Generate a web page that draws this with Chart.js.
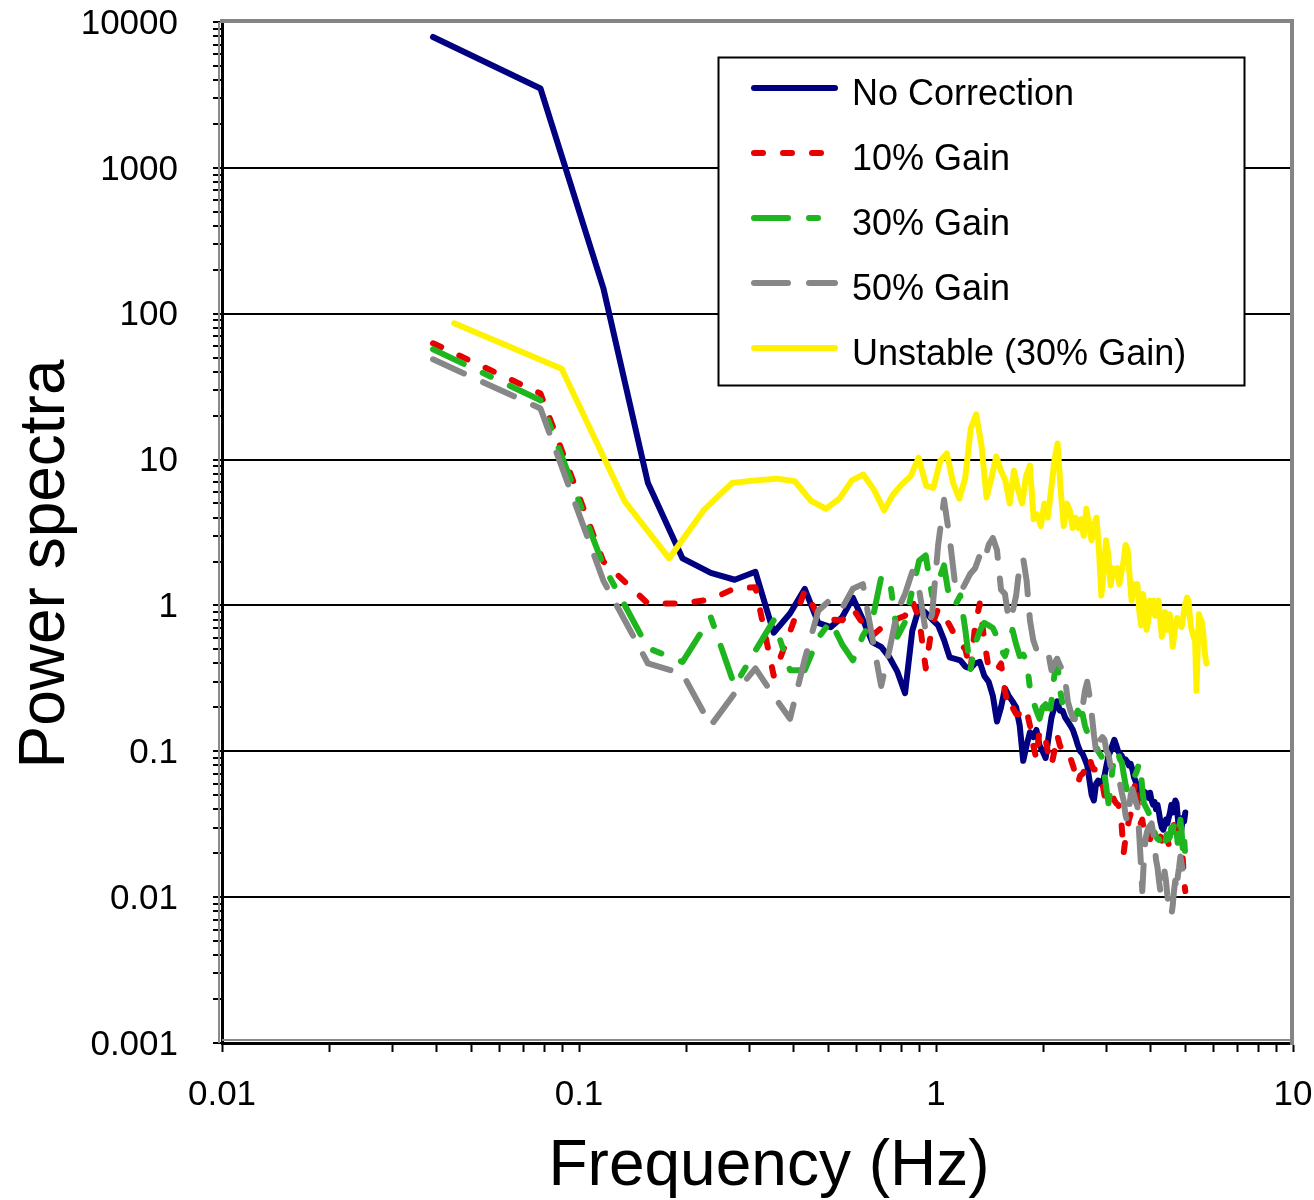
<!DOCTYPE html>
<html>
<head>
<meta charset="utf-8">
<title>Power spectra</title>
<script src="https://cdn.jsdelivr.net/npm/chart.js@4.4.1/dist/chart.umd.min.js"></script>
<style>
  html, body { margin: 0; padding: 0; background: #ffffff; }
  #wrap { width: 1314px; height: 1200px; }
  canvas { display: block; }
</style>
</head>
<body>
<div id="wrap"><canvas id="psd" width="1314" height="1200"></canvas></div>
<script>
// Frequency bins (Hz) of the four corrected/uncorrected runs
const freqHz = [
  0.039, 0.078, 0.117, 0.156, 0.195, 0.234, 0.273, 0.312, 0.351, 0.390,
  0.429, 0.468, 0.507, 0.546, 0.585, 0.624, 0.663, 0.702, 0.741, 0.780,
  0.819, 0.858, 0.897, 0.936, 0.975, 1.014, 1.053, 1.092, 1.131, 1.170,
  1.209, 1.248, 1.287, 1.326, 1.365, 1.404, 1.443, 1.482, 1.521, 1.560,
  1.599, 1.638, 1.677, 1.716, 1.755, 1.794, 1.833, 1.872, 1.911, 1.950,
  1.989, 2.028, 2.067, 2.106, 2.145, 2.184, 2.223, 2.262, 2.301, 2.340,
  2.379, 2.418, 2.457, 2.496, 2.535, 2.574, 2.613, 2.652, 2.691, 2.730,
  2.769, 2.808, 2.847, 2.886, 2.925, 2.964, 3.003, 3.042, 3.081, 3.120,
  3.159, 3.198, 3.237, 3.276, 3.315, 3.354, 3.393, 3.432, 3.471, 3.510,
  3.549, 3.588, 3.627, 3.666, 3.705, 3.744, 3.783, 3.822, 3.861, 3.900,
  3.939, 3.978, 4.017, 4.056, 4.095, 4.134, 4.173, 4.212, 4.251, 4.290,
  4.329, 4.368, 4.407, 4.446, 4.485, 4.524, 4.563, 4.602, 4.641, 4.680,
  4.719, 4.758, 4.797, 4.836, 4.875, 4.914, 4.953, 4.992
];

// Frequency bins (Hz) of the unstable run
const freqUnstableHz = [
  0.0447, 0.0894, 0.1341, 0.1788, 0.2235, 0.2682, 0.3129, 0.3576, 0.4023, 0.4470,
  0.4917, 0.5364, 0.5811, 0.6258, 0.6705, 0.7152, 0.7599, 0.8046, 0.8493, 0.8940,
  0.9387, 0.9834, 1.0281, 1.0728, 1.1175, 1.1622, 1.2069, 1.2516, 1.2963, 1.3410,
  1.3857, 1.4304, 1.4751, 1.5198, 1.5645, 1.6092, 1.6539, 1.6986, 1.7433, 1.7880,
  1.8327, 1.8774, 1.9221, 1.9668, 2.0115, 2.0562, 2.1009, 2.1456, 2.1903, 2.2350,
  2.2797, 2.3244, 2.3691, 2.4138, 2.4585, 2.5032, 2.5479, 2.5926, 2.6373, 2.6820,
  2.7267, 2.7714, 2.8161, 2.8608, 2.9055, 2.9502, 2.9949, 3.0396, 3.0843, 3.1290,
  3.1737, 3.2184, 3.2631, 3.3078, 3.3525, 3.3972, 3.4419, 3.4866, 3.5313, 3.5760,
  3.6207, 3.6654, 3.7101, 3.7548, 3.7995, 3.8442, 3.8889, 3.9336, 3.9783, 4.0230,
  4.0677, 4.1124, 4.1571, 4.2018, 4.2465, 4.2912, 4.3359, 4.3806, 4.4253, 4.4700,
  4.5147, 4.5594, 4.6041, 4.6488, 4.6935, 4.7382, 4.7829, 4.8276, 4.8723, 4.9170,
  4.9617, 5.0064, 5.0511, 5.0958, 5.1405, 5.1852, 5.2299, 5.2746, 5.3193, 5.3640,
  5.4087, 5.4534, 5.4981, 5.5428, 5.5875, 5.6322, 5.6769, 5.7216
];

const psdNoCorrection = [
  7900, 3500, 150, 6.9, 2.1, 1.67, 1.5, 1.7, 0.65, 0.88,
  1.3, 0.76, 0.71, 0.83, 1.13, 0.8, 0.56, 0.52, 0.44, 0.35,
  0.25, 0.67, 0.97, 0.89, 0.8, 0.73, 0.58, 0.44, 0.43, 0.42,
  0.38, 0.37, 0.4, 0.41, 0.33, 0.3, 0.24, 0.16, 0.2, 0.27,
  0.24, 0.22, 0.2, 0.15, 0.086, 0.11, 0.135, 0.125, 0.14, 0.11,
  0.1, 0.09, 0.125, 0.17, 0.2, 0.22, 0.19, 0.19, 0.17, 0.16,
  0.15, 0.14, 0.125, 0.11, 0.1, 0.096, 0.088, 0.08, 0.063, 0.05,
  0.046, 0.06, 0.063, 0.06, 0.06, 0.068, 0.08, 0.093, 0.1, 0.11,
  0.12, 0.11, 0.1, 0.096, 0.093, 0.085, 0.088, 0.085, 0.08, 0.082,
  0.075, 0.066, 0.062, 0.057, 0.05, 0.048, 0.05, 0.053, 0.052, 0.05,
  0.048, 0.052, 0.046, 0.043, 0.045, 0.04, 0.043, 0.038, 0.033, 0.03,
  0.029, 0.031, 0.034, 0.032, 0.035, 0.038, 0.043, 0.038, 0.04, 0.046,
  0.044, 0.035, 0.028, 0.025, 0.03, 0.035, 0.033, 0.038
];

const psdGain10 = [
  62.7, 28.4, 2.0, 1.03, 1.03, 1.1, 1.31, 1.33, 0.33, 0.66,
  1.27, 0.85, 0.8, 0.79, 0.95, 0.75, 0.62, 0.7, 0.76, 0.81,
  0.85, 1.08, 0.81, 0.37, 0.73, 0.95, 0.85, 0.73, 0.62, 0.55,
  0.5, 0.35, 0.73, 1.03, 0.58, 0.37, 0.35, 0.36, 0.4, 0.26,
  0.19, 0.2, 0.18, 0.18, 0.2, 0.19, 0.15, 0.11, 0.088, 0.14,
  0.13, 0.12, 0.093, 0.08, 0.1, 0.13, 0.11, 0.1, 0.093, 0.088,
  0.09, 0.08, 0.07, 0.06, 0.068, 0.07, 0.075, 0.088, 0.09, 0.08,
  0.075, 0.075, 0.07, 0.065, 0.06, 0.05, 0.045, 0.048, 0.05, 0.05,
  0.046, 0.044, 0.043, 0.04, 0.03, 0.02, 0.025, 0.029, 0.034, 0.037,
  0.046, 0.055, 0.063, 0.046, 0.036, 0.032, 0.034, 0.029, 0.027, 0.03,
  0.028, 0.025, 0.026, 0.027, 0.025, 0.024, 0.026, 0.025, 0.026, 0.025,
  0.023, 0.025, 0.028, 0.025, 0.023, 0.027, 0.03, 0.028, 0.032, 0.026,
  0.029, 0.025, 0.031, 0.028, 0.023, 0.018, 0.013, 0.011
];

const psdGain30 = [
  57, 25.5, 1.88, 0.51, 0.41, 0.83, 0.28, 0.49, 0.79, 0.36,
  0.36, 0.6, 0.78, 0.54, 0.42, 0.62, 0.79, 1.55, 1.55, 0.61,
  0.77, 1.27, 2.03, 2.2, 1.17, 1.45, 1.88, 1.08, 1.0, 1.17,
  0.67, 0.36, 0.54, 0.67, 0.76, 0.73, 0.7, 0.61, 0.5, 0.45,
  0.54, 0.68, 0.54, 0.45, 0.46, 0.42, 0.27, 0.22, 0.19, 0.167,
  0.2, 0.21, 0.167, 0.22, 0.33, 0.43, 0.27, 0.21, 0.2, 0.2,
  0.18, 0.167, 0.175, 0.19, 0.18, 0.18, 0.15, 0.135, 0.13, 0.125,
  0.12, 0.11, 0.1, 0.095, 0.09, 0.07, 0.055, 0.044, 0.055, 0.075,
  0.093, 0.1, 0.097, 0.088, 0.084, 0.07, 0.06, 0.053, 0.057, 0.06,
  0.065, 0.066, 0.07, 0.075, 0.083, 0.075, 0.055, 0.044, 0.042, 0.04,
  0.038, 0.036, 0.034, 0.03, 0.028, 0.026, 0.025, 0.025, 0.023, 0.022,
  0.021, 0.023, 0.025, 0.027, 0.025, 0.026, 0.03, 0.028, 0.032, 0.034,
  0.028, 0.023, 0.029, 0.034, 0.028, 0.021, 0.026, 0.019
];

const psdGain50 = [
  48.7, 22.4, 1.48, 0.4, 0.34, 0.15, 0.25, 0.37, 0.24, 0.167,
  0.43, 0.92, 1.1, 0.96, 1.3, 1.4, 0.6, 0.28, 0.5, 0.92,
  1.2, 1.7, 1.28, 0.66, 0.87, 2.6, 5.3, 2.9, 1.4, 1.22,
  1.42, 1.65, 1.8, 2.2, 2.0, 2.6, 2.9, 2.4, 1.28, 1.2,
  0.79, 0.9, 1.17, 1.9, 2.1, 1.48, 0.79, 0.58, 0.5, 0.46,
  0.47, 0.48, 0.46, 0.36, 0.4, 0.43, 0.39, 0.36, 0.31, 0.22,
  0.19, 0.17, 0.165, 0.17, 0.175, 0.2, 0.26, 0.3, 0.24, 0.18,
  0.13, 0.1, 0.095, 0.12, 0.125, 0.12, 0.1, 0.095, 0.08, 0.075,
  0.073, 0.07, 0.066, 0.06, 0.052, 0.046, 0.037, 0.033, 0.04, 0.05,
  0.055, 0.05, 0.045, 0.042, 0.028, 0.018, 0.011, 0.018, 0.025, 0.028,
  0.03, 0.031, 0.032, 0.028, 0.023, 0.018, 0.016, 0.013, 0.011, 0.0105,
  0.012, 0.015, 0.013, 0.0103, 0.0087, 0.0082, 0.0075, 0.0087, 0.011, 0.013,
  0.011, 0.014, 0.016, 0.019, 0.017, 0.015, 0.014, 0.013
];

const psdUnstable = [
  86, 42, 5.2, 2.1, 4.5, 6.9, 7.2, 7.4, 7.1, 5.2,
  4.6, 5.4, 7.2, 7.9, 6.2, 4.5, 5.8, 6.8, 7.7, 10.3,
  6.6, 6.4, 9.8, 11.0, 6.9, 5.4, 7.4, 16.4, 20.4, 12.5,
  5.5, 7.5, 10.5, 8.4, 7.2, 5.0, 8.4, 6.2, 5.0, 7.7,
  9.1, 3.9, 4.2, 3.5, 5.0, 4.0, 6.2, 9.8, 12.9, 6.2,
  3.5, 5.0, 4.5, 3.4, 4.0, 3.4, 3.9, 3.0, 4.6, 3.6,
  2.8, 3.6, 4.0, 2.4, 1.17, 1.7, 2.8, 2.2, 1.37, 1.8,
  1.6, 1.8, 1.4, 1.7, 2.0, 2.6, 2.4, 1.6, 1.08, 1.4,
  1.27, 1.4, 0.92, 0.73, 1.2, 1.0, 0.68, 0.79, 1.08, 0.92,
  1.08, 0.85, 1.0, 1.08, 0.79, 0.61, 0.73, 0.9, 0.68, 0.68,
  0.87, 0.7, 0.52, 0.62, 0.75, 0.82, 0.78, 0.74, 0.71, 0.8,
  0.95, 1.05, 1.13, 1.08, 0.85, 0.7, 0.65, 0.6, 0.58, 0.26,
  0.5, 0.87, 0.8, 0.79, 0.7, 0.55, 0.45, 0.40
];

const seriesNames = ['No Correction', '10% Gain', '30% Gain', '50% Gain', 'Unstable (30% Gain)'];

const xTickLabels = ['0.01', '0.1', '1', '10'];
const yTickLabels = ['0.001', '0.01', '0.1', '1', '10', '100', '1000', '10000'];
const xAxisTitle = 'Frequency (Hz)';
const yAxisTitle = 'Power spectra';

const FONT = "'Liberation Sans', Arial, Helvetica, sans-serif";

// pair each frequency bin with its spectral value
const toPoints = (xs, ys) => ys.map((y, i) => ({ x: xs[i], y: y }));

// tick positions: every 1..9 multiple inside each decade, decades carry the labels
function logTickMarks(labels) {
  const out = [];
  const firstExp = Math.round(Math.log10(parseFloat(labels[0])));
  const lastExp = Math.round(Math.log10(parseFloat(labels[labels.length - 1])));
  for (let e = firstExp; e <= lastExp; e++) {
    for (let m = 1; m <= 9; m++) {
      if (e === lastExp && m > 1) break;
      out.push({ value: parseFloat((m * Math.pow(10, e)).toPrecision(4)) });
    }
  }
  return out;
}
function decadeLabel(value, labels) {
  const lg = Math.log10(value);
  if (Math.abs(lg - Math.round(lg)) > 1e-6) return '';
  const first = Math.round(Math.log10(parseFloat(labels[0])));
  return labels[Math.round(lg) - first] || '';
}
function isDecade(value) {
  const lg = Math.log10(value);
  return Math.abs(lg - Math.round(lg)) < 1e-6;
}

// grey plot-area frame (top and right edges, thin shade beside the axes)
const plotFrame = {
  id: 'plotFrame',
  beforeDatasetsDraw(chart) {
    const { ctx, chartArea: a } = chart;
    ctx.save();
    ctx.strokeStyle = '#8a8a8a';
    ctx.lineWidth = 2;
    ctx.beginPath();
    ctx.moveTo(a.left - 3, a.top);
    ctx.lineTo(a.left - 3, a.bottom);
    ctx.moveTo(a.left, a.bottom - 3);
    ctx.lineTo(a.right, a.bottom - 3);
    ctx.stroke();
    ctx.restore();
  },
  afterDatasetsDraw(chart) {
    const { ctx, chartArea: a } = chart;
    ctx.save();
    ctx.strokeStyle = '#858585';
    ctx.lineWidth = 4;
    ctx.lineCap = 'square';
    ctx.beginPath();
    ctx.moveTo(a.left, a.top - 1);
    ctx.lineTo(a.right - 1, a.top - 1);
    ctx.lineTo(a.right - 1, a.bottom);
    ctx.stroke();
    ctx.restore();
  }
};

// axis captions
const axisCaptions = {
  id: 'axisCaptions',
  afterDraw(chart) {
    const ctx = chart.ctx;
    ctx.save();
    ctx.fillStyle = '#000';
    ctx.font = '64px ' + FONT;
    ctx.textAlign = 'center';
    ctx.textBaseline = 'alphabetic';
    ctx.fillText(xAxisTitle, 769, 1185);
    ctx.translate(64, 564);
    ctx.rotate(-Math.PI / 2);
    ctx.fillText(yAxisTitle, 0, 0);
    ctx.restore();
  }
};

// boxed legend in the upper right of the plot
const legendBox = {
  id: 'legendBox',
  afterDraw(chart) {
    const ctx = chart.ctx;
    const bx = 718.5, by = 57.5, bw = 526, bh = 328;
    ctx.save();
    ctx.fillStyle = '#ffffff';
    ctx.fillRect(bx, by, bw, bh);
    ctx.strokeStyle = '#000';
    ctx.lineWidth = 2;
    ctx.strokeRect(bx, by, bw, bh);
    chart.data.datasets.forEach((ds, i) => {
      const y = 88 + i * 65;
      ctx.beginPath();
      ctx.setLineDash(ds.borderDash || []);
      ctx.lineDashOffset = 0;
      ctx.lineCap = 'round';
      ctx.lineWidth = ds.borderWidth;
      ctx.strokeStyle = ds.borderColor;
      ctx.moveTo(754, y);
      ctx.lineTo(835, y);
      ctx.stroke();
      ctx.setLineDash([]);
      ctx.fillStyle = '#000';
      ctx.font = '36px ' + FONT;
      ctx.textAlign = 'left';
      ctx.textBaseline = 'alphabetic';
      ctx.fillText(ds.label, 852, y + 17);
    });
    ctx.restore();
  }
};

const lineBase = {
  borderWidth: 6,
  pointRadius: 0,
  pointHoverRadius: 0,
  tension: 0,
  fill: false,
  borderCapStyle: 'round',
  borderJoinStyle: 'round'
};

const chart = new Chart(document.getElementById('psd'), {
  type: 'line',
  data: {
    datasets: [
      Object.assign({}, lineBase, { label: seriesNames[0], data: toPoints(freqHz, psdNoCorrection), borderColor: '#000080', borderDash: [], order: 5 }),
      Object.assign({}, lineBase, { label: seriesNames[1], data: toPoints(freqHz, psdGain10), borderColor: '#e80000', borderDash: [9, 20], order: 4 }),
      Object.assign({}, lineBase, { label: seriesNames[2], data: toPoints(freqHz, psdGain30), borderColor: '#1fb51f', borderDash: [34, 21, 9, 21], order: 3 }),
      Object.assign({}, lineBase, { label: seriesNames[3], data: toPoints(freqHz, psdGain50), borderColor: '#878787', borderDash: [34, 21], order: 2 }),
      Object.assign({}, lineBase, { label: seriesNames[4], data: toPoints(freqUnstableHz, psdUnstable), borderColor: '#fff200', borderDash: [], order: 1 })
    ]
  },
  options: {
    responsive: false,
    animation: false,
    devicePixelRatio: 1,
    layout: { padding: { left: 0, right: 21, top: 22, bottom: 0 } },
    plugins: {
      legend: { display: false },
      tooltip: { enabled: false },
      title: { display: false }
    },
    scales: {
      x: {
        type: 'logarithmic',
        min: 0.01,
        max: 10,
        afterBuildTicks(scale) { scale.ticks = logTickMarks(xTickLabels); },
        afterFit(scale) {
          scale.height = 157;
          scale.paddingLeft = 0;
          scale.paddingRight = 0;
        },
        ticks: {
          autoSkip: false,
          maxRotation: 0,
          minRotation: 0,
          padding: 22,
          color: '#000',
          font: { family: FONT, size: 35 },
          callback: (v) => decadeLabel(v, xTickLabels)
        },
        grid: {
          drawOnChartArea: false,
          drawTicks: true,
          tickLength: 9,
          tickWidth: 2,
          tickColor: '#000'
        },
        border: { display: true, color: '#000', width: 3 },
        title: { display: false }
      },
      y: {
        type: 'logarithmic',
        min: 0.001,
        max: 10000,
        afterBuildTicks(scale) { scale.ticks = logTickMarks(yTickLabels); },
        afterFit(scale) {
          scale.width = 222;
          scale.paddingTop = 0;
          scale.paddingBottom = 0;
        },
        ticks: {
          autoSkip: false,
          padding: 35,
          labelOffset: 2,
          color: '#000',
          font: { family: FONT, size: 35 },
          callback: (v) => decadeLabel(v, yTickLabels)
        },
        grid: {
          drawOnChartArea: true,
          drawTicks: true,
          tickLength: 9,
          tickWidth: 2,
          tickColor: '#000',
          lineWidth: 2,
          color: (c) => (c.tick && isDecade(c.tick.value) && c.tick.value < 9999 && c.tick.value > 0.0011) ? '#000' : 'rgba(0,0,0,0)'
        },
        border: { display: true, color: '#000', width: 3 },
        title: { display: false }
      }
    }
  },
  plugins: [plotFrame, axisCaptions, legendBox]
});
</script>
</body>
</html>
